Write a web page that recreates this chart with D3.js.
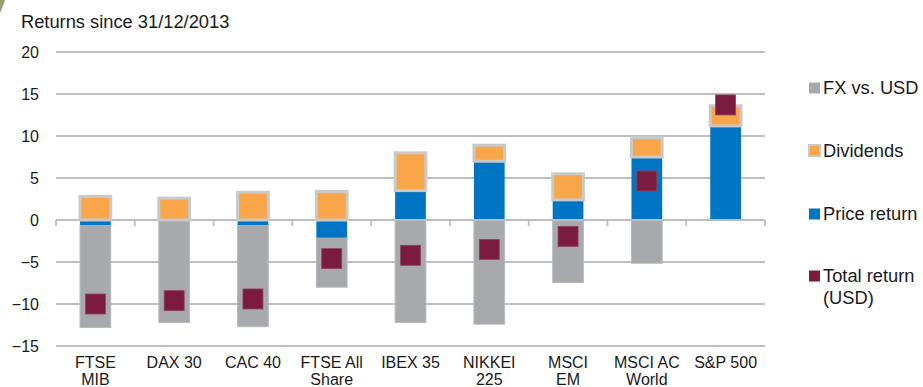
<!DOCTYPE html>
<html>
<head>
<meta charset="utf-8">
<script src="https://cdn.jsdelivr.net/npm/d3@7"></script>
<style>
  html, body { margin: 0; padding: 0; background: #ffffff; }
  svg { display: block; font-family: "Liberation Sans", Arial, sans-serif; }
</style>
</head>
<body>
<svg id="chart" width="923" height="387"></svg>
<script>
// ---- Data ----
const categories = ["FTSE MIB", "DAX 30", "CAC 40", "FTSE All Share", "IBEX 35", "NIKKEI 225", "MSCI EM", "MSCI AC World", "S&P 500"];
const categoryLines = [["FTSE", "MIB"], ["DAX 30"], ["CAC 40"], ["FTSE All", "Share"], ["IBEX 35"], ["NIKKEI", "225"], ["MSCI", "EM"], ["MSCI AC", "World"], ["S&P 500"]];
const fxVsUsd     = [-12.2, -12.2, -12.1, -5.9, -12.2, -12.4, -7.45, -5.15, 0];
const dividends   = [2.8, 2.6, 3.3, 3.4, 4.5, 1.9, 3.1, 2.3, 2.4];
const priceReturn = [-0.6, 0, -0.6, -2.1, 3.5, 7.0, 2.4, 7.5, 11.2];
const totalReturn = [-10.0, -9.6, -9.4, -4.6, -4.2, -3.5, -1.95, 4.65, 13.7];
const yTicks = [-15, -10, -5, 0, 5, 10, 15, 20];
const seriesNames = ["FX vs. USD", "Dividends", "Price return", "Total return (USD)"];
const title = "Returns since 31/12/2013";

// ---- Styles ----
const colors = { fx: "#A7A9AC", div: "#F9A54A", price: "#0075C4", total: "#7A1B3F" };
const gridColor = "#BEBEBE";

const svg = d3.select("#chart");
const margin = { left: 56, right: 765, top: 52, bottom: 346 };

const x = d3.scaleBand().domain(categories).range([margin.left, margin.right]).padding(0);
const y = d3.scaleLinear().domain([-15, 20]).range([margin.bottom, margin.top]);
const barW = x.bandwidth() * 0.39;

// decorative corner arc
svg.append("path")
  .attr("d", "M0,0 L5,0 Q3,6 0,13 Z")
  .attr("fill", "#9C9A74");

// title
svg.append("text")
  .attr("x", 21).attr("y", 28)
  .attr("font-size", 18.3).attr("fill", "#1a1a1a")
  .text(title);

// gridlines
svg.append("g").selectAll("line")
  .data(yTicks.filter(d => d !== 0))
  .join("line")
  .attr("x1", margin.left).attr("x2", margin.right)
  .attr("y1", d => y(d)).attr("y2", d => y(d))
  .attr("stroke", gridColor).attr("stroke-width", 1.8);

// y axis labels
const yAxis = d3.axisLeft(y).tickValues(yTicks).tickSize(0).tickPadding(0);
const yg = svg.append("g").attr("transform", `translate(${margin.left - 17},0)`).call(yAxis);
yg.select(".domain").remove();
yg.selectAll("text").attr("font-size", 16).attr("fill", "#1a1a1a").attr("font-family", "Liberation Sans, Arial, sans-serif");

// stacking
const rows = categories.map((c, i) => ({ cat: c, price: priceReturn[i], fx: fxVsUsd[i], div: dividends[i] }));
const stack = d3.stack().keys(["price", "fx", "div"]).offset(d3.stackOffsetDiverging);
const stacked = stack(rows);
const byKey = {};
stacked.forEach(s => byKey[s.key] = s);

const drawSeries = (key, color, stroke, sw) => {
  svg.append("g").selectAll("rect")
    .data(byKey[key].filter(d => d[1] - d[0] !== 0))
    .join("rect")
    .attr("x", d => x(d.data.cat) + x.bandwidth() / 2 - barW / 2)
    .attr("width", barW)
    .attr("y", d => y(Math.max(d[0], d[1])))
    .attr("height", d => Math.abs(y(d[0]) - y(d[1])))
    .attr("fill", color)
    .attr("stroke", stroke || "none")
    .attr("stroke-width", sw || 0);
};
drawSeries("fx", colors.fx, "#B9BBBD", 1);
drawSeries("price", colors.price);

// zero axis line with ticks
const xAxis = d3.axisBottom(x).tickSize(0).tickFormat("");
const xg = svg.append("g").attr("transform", `translate(0,${y(0)})`).call(xAxis);
xg.select(".domain").remove();
svg.append("line")
  .attr("x1", margin.left).attr("x2", margin.right)
  .attr("y1", y(0)).attr("y2", y(0))
  .attr("stroke", gridColor).attr("stroke-width", 1.8);
const boundaries = categories.map(c => x(c)).concat([margin.right]);
svg.append("g").selectAll("line")
  .data(boundaries)
  .join("line")
  .attr("x1", d => d).attr("x2", d => d)
  .attr("y1", y(0)).attr("y2", y(0) + 6)
  .attr("stroke", gridColor).attr("stroke-width", 1.8);

drawSeries("div", colors.div, "#C9C9C9", 3);

// total return squares
const sq = 20;
svg.append("g").selectAll("rect")
  .data(totalReturn)
  .join("rect")
  .attr("x", (d, i) => x(categories[i]) + x.bandwidth() / 2 - sq / 2)
  .attr("y", d => y(d) - sq / 2)
  .attr("width", sq).attr("height", sq)
  .attr("fill", colors.total)
  .attr("stroke", "#8E4460").attr("stroke-width", 0.8);

// x labels
const lab = svg.append("g");
categoryLines.forEach((lines, i) => {
  const t = lab.append("text")
    .attr("x", x(categories[i]) + x.bandwidth() / 2)
    .attr("y", 368)
    .attr("text-anchor", "middle")
    .attr("font-size", 16).attr("fill", "#1a1a1a");
  lines.forEach((l, j) => {
    t.append("tspan").attr("x", x(categories[i]) + x.bandwidth() / 2).attr("dy", j === 0 ? 0 : 17).text(l);
  });
});

// legend
const legendColors = [colors.fx, colors.div, colors.price, colors.total];
const legendY = [88, 150.5, 214, 276];
const lg = svg.append("g");
seriesNames.forEach((name, i) => {
  const g = lg.append("g").attr("transform", `translate(809,${legendY[i]})`);
  g.append("rect").attr("x", 0).attr("y", -5.5).attr("width", 11).attr("height", 11)
    .attr("fill", legendColors[i])
    .attr("stroke", i === 1 ? "#C9C9C9" : "none").attr("stroke-width", i === 1 ? 2 : 0);
  const t = g.append("text").attr("x", 14).attr("y", 6).attr("font-size", 18.3).attr("fill", "#1a1a1a");
  if (i === 3) {
    t.append("tspan").attr("x", 14).text("Total return");
    t.append("tspan").attr("x", 14).attr("dy", 22).text("(USD)");
  } else {
    t.text(name);
  }
});
</script>
</body>
</html>
